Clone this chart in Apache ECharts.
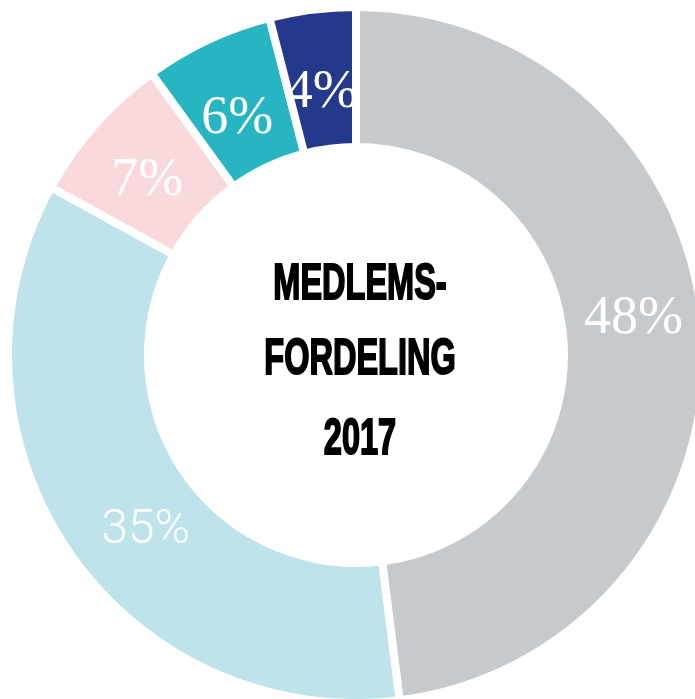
<!DOCTYPE html>
<html>
<head>
<meta charset="utf-8">
<script src="https://cdn.jsdelivr.net/npm/echarts@6/dist/echarts.min.js"></script>
<style>
  html, body { margin: 0; padding: 0; background: #ffffff; }
  #donut-chart { width: 695px; height: 699px; }
</style>
</head>
<body>
<div id="donut-chart"></div>
<script>
// 資料
var categories = ['Gruppe A', 'Gruppe B', 'Gruppe C', 'Gruppe D', 'Gruppe E'];
var values = [48, 35, 7, 6, 4];
var colors = ['#c7cacd', '#bfe3ea', '#fad9dd', '#27b6c1', '#25398c'];
var centerLines = ['MEDLEMS-', 'FORDELING', '2017'];

// 標籤微調 (原圖的標籤並非正好在扇形中間)
var labelOffsets = [[-3, -19], [22, 18], [2, 12], [1, 18], [1, 17]];
var labelFonts = ['"Liberation Serif"', 'Roboto', '"Liberation Serif"', '"Liberation Serif"', '"Liberation Serif"'];
var labelSizes = [54, 48, 54, 54, 54];

var cx = 356, cy = 355;
var lineY = [285, 360, 440];

var donutChart = echarts.init(document.getElementById('donut-chart'));
var donutOption = {
    animation: false,
    color: colors,
    graphic: centerLines.map(function (t, i) {
        return {
            type: 'text',
            x: cx + 4,
            y: lineY[i],
            scaleX: 0.65,
            style: {
                text: t,
                fill: '#000',
                stroke: '#000',
                lineWidth: 2,
                fontFamily: '"Liberation Sans"',
                fontWeight: 'bold',
                fontSize: 50,
                align: 'center',
                verticalAlign: 'middle',
                textAlign: 'center',
                textVerticalAlign: 'middle'
            }
        };
    }),
    series: [
        {
            type: 'pie',
            center: [cx, cy],
            radius: [208, 348],
            startAngle: 90,
            clockwise: true,
            avoidLabelOverlap: false,
            itemStyle: {
                borderColor: '#ffffff',
                borderWidth: 8
            },
            label: {
                show: true,
                position: 'inside',
                color: '#ffffff',
                formatter: '{c}%'
            },
            labelLine: { show: false },
            data: values.map(function (v, i) {
                return {
                    value: v,
                    name: categories[i],
                    label: {
                        offset: labelOffsets[i],
                        fontFamily: labelFonts[i],
                        fontSize: labelSizes[i],
                        fontWeight: i === 1 ? 300 : 'normal'
                    }
                };
            })
        }
    ]
};
donutChart.setOption(donutOption);

window.addEventListener('resize', function () {
    donutChart.resize();
});
</script>
</body>
</html>
